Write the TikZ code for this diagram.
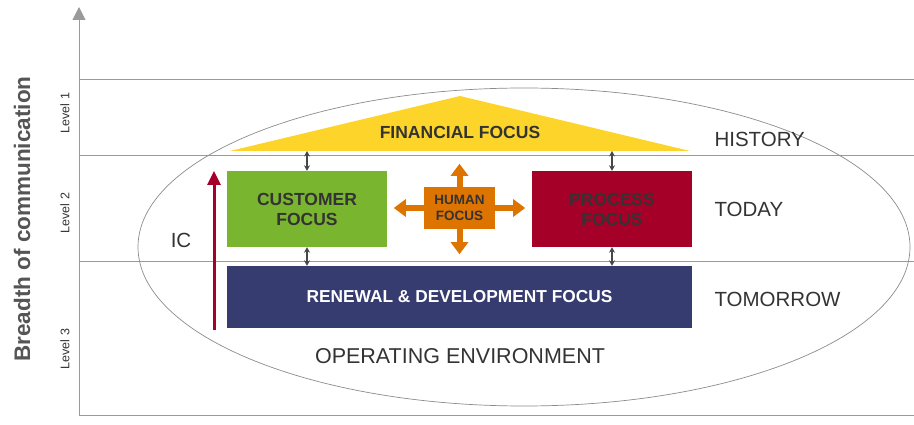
\documentclass[tikz,border=0pt]{standalone}
\usepackage{fontspec}
\setmainfont{Liberation Sans}
\usetikzlibrary{arrows.meta,positioning}
\definecolor{finyellow}{HTML}{FDD52A}
\definecolor{custgreen}{HTML}{7AB52F}
\definecolor{procred}{HTML}{A50028}
\definecolor{humorange}{HTML}{DE7400}
\definecolor{renblue}{HTML}{363B70}
\definecolor{axisgray}{HTML}{9A9A9A}
\definecolor{txtgray}{HTML}{333333}
\definecolor{labelgray}{HTML}{555555}

\begin{document}
\begin{tikzpicture}[x=1pt,y=-1pt,
    focusbox/.style={minimum width=160pt,minimum height=76pt,inner sep=0pt,align=center,
      font=\bfseries\fontsize{17.5}{20}\selectfont,text=txtgray},
    period/.style={anchor=west,font=\fontsize{20.5}{22}\selectfont,text=txtgray},
    levellabel/.style={rotate=90,font=\fontsize{12.5}{14}\selectfont,text=txtgray},
    link/.style={{Stealth[length=5.5pt,width=6pt]}-{Stealth[length=5.5pt,width=6pt]},line width=1.5pt,draw=black!72},
    humanarrow/.style={-{Triangle[width=17pt,length=12pt]},line width=6pt,humorange}]
  \useasboundingbox (0,0) rectangle (914,425);

  % axes and level lines
  \coordinate (origin) at (79,415);
  \draw[axisgray,line width=1pt,-{Triangle[width=13pt,length=13pt]}] (914,415) -- (origin) -- (79,7);
  \foreach \ly in {79,155,261}
    \draw[axisgray,line width=0.8pt] (79,\ly) -- (914,\ly);

  \node[rotate=90,font=\bfseries\fontsize{22.5}{24}\selectfont,text=labelgray] (breadth) at (22,219) {Breadth of communication};
  \node[levellabel] (lev1) at (65,113) {Level 1};
  \node[levellabel] (lev2) at (65,213) {Level 2};
  \node[levellabel] (lev3) at (65,349) {Level 3};

  % operating environment
  \draw[axisgray!90!black,line width=0.7pt] (524,247) ellipse [x radius=386, y radius=159];
  \node[font=\fontsize{21.5}{23}\selectfont,text=txtgray] (openv) at (460,356) {OPERATING ENVIRONMENT};

  % financial focus roof
  \coordinate (finL) at (230,151);
  \coordinate (finR) at (690,151);
  \coordinate (finTop) at (460,96);
  \fill[finyellow] (finL) -- (finTop) -- (finR) -- cycle;
  \node[font=\bfseries\fontsize{17.5}{20}\selectfont,text=txtgray] (fin) at (460,132) {FINANCIAL FOCUS};

  % focus boxes
  \node[focusbox,fill=custgreen] (cust) at (307,209) {CUSTOMER\\FOCUS};
  \node[focusbox,fill=procred] (proc) at (612,209) {PROCESS\\FOCUS};
  \node[focusbox,fill=renblue,minimum width=465pt,minimum height=62pt,text=white,
    font=\bfseries\fontsize{17.3}{19}\selectfont] (renew) at (459.5,297) {RENEWAL \& DEVELOPMENT FOCUS};
  \node[fill=humorange,minimum width=71pt,minimum height=42pt,inner sep=0pt,align=center,
    font=\bfseries\fontsize{13.5}{15.5}\selectfont,text=txtgray] (human) at (459.5,208) {HUMAN\\FOCUS};

  \draw[humanarrow] (human.north) -- ++(0,-23);
  \draw[humanarrow] (human.south) -- ++(0,25);
  \draw[humanarrow] (human.west) -- ++(-30,0);
  \draw[humanarrow] (human.east) -- ++(30,0);

  % links between layers
  \draw[link] (cust.north) -- (cust.north |- finL);
  \draw[link] (proc.north) -- (proc.north |- finR);
  \draw[link] (cust.south) -- (cust.south |- renew.north);
  \draw[link] (proc.south) -- (proc.south |- renew.north);

  % IC arrow
  \coordinate (icbot) at (214,330);
  \coordinate (ictop) at (214,171);
  \draw[procred,line width=3pt,-{Triangle[width=13pt,length=14pt]}] (icbot) -- (ictop);
  \node[font=\fontsize{20.5}{22}\selectfont,text=txtgray] (ic) at (181,240) {IC};

  % time labels
  \node[period] (history) at (711,139) {HISTORY};
  \node[period] (today) at (711,209) {TODAY};
  \node[period] (tomorrow) at (711,299) {TOMORROW};
\end{tikzpicture}
\end{document}
